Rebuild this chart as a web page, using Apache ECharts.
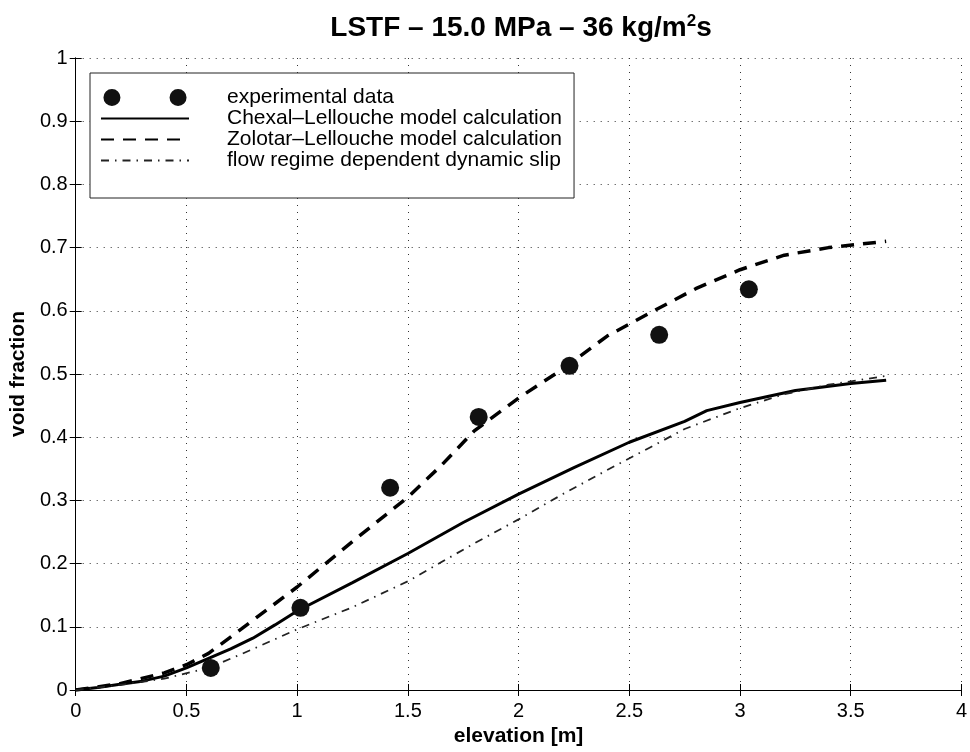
<!DOCTYPE html>
<html><head><meta charset="utf-8">
<script src="https://cdn.jsdelivr.net/npm/echarts@6/dist/echarts.min.js"></script>
<style>html,body{margin:0;padding:0;background:#fff}#c{width:970px;height:752px}</style>
</head><body><div id="c"></div>
<script>
// ---- data ----
const expElev = [0.61, 1.015, 1.42, 1.82, 2.23, 2.635, 3.04];
const expVoid = [0.035, 0.13, 0.32, 0.432, 0.513, 0.562, 0.634];

const chexalElev = [0, 0.1, 0.2, 0.3, 0.4, 0.5, 0.6, 0.7, 0.8, 0.9, 1.0, 1.25, 1.5, 1.75, 2.0, 2.25, 2.5, 2.75, 2.85, 3.0, 3.25, 3.5, 3.66];
const chexalVoid = [0, 0.004, 0.009, 0.014, 0.022, 0.035, 0.05, 0.065, 0.082, 0.103, 0.125, 0.17, 0.216, 0.265, 0.31, 0.352, 0.392, 0.425, 0.442, 0.455, 0.474, 0.485, 0.49];

const zolotarElev = [0, 0.2, 0.4, 0.5, 0.6, 0.75, 1.0, 1.25, 1.5, 1.65, 1.8, 2.0, 2.2, 2.4, 2.6, 2.8, 3.0, 3.2, 3.4, 3.66];
const zolotarVoid = [0, 0.01, 0.027, 0.04, 0.058, 0.097, 0.163, 0.235, 0.305, 0.355, 0.41, 0.462, 0.508, 0.56, 0.598, 0.635, 0.665, 0.688, 0.70, 0.71];

const flowElev = [0, 0.2, 0.4, 0.6, 0.75, 1.0, 1.25, 1.5, 1.65, 1.8, 2.0, 2.2, 2.4, 2.6, 2.75, 3.0, 3.2, 3.4, 3.66];
const flowVoid = [0, 0.008, 0.018, 0.035, 0.057, 0.096, 0.131, 0.172, 0.202, 0.232, 0.27, 0.31, 0.348, 0.385, 0.413, 0.446, 0.468, 0.483, 0.497];

const seriesNames = ['experimental data', 'Chexal\u2013Lellouche model calculation', 'Zolotar\u2013Lellouche model calculation', 'flow regime dependent dynamic slip'];
const xAxisName = 'elevation [m]';
const yAxisName = 'void fraction';

const zip = (a, b) => a.map((v, i) => [v, b[i]]);
const FONT = 'Liberation Sans, Arial, Helvetica, sans-serif';

const chart = echarts.init(document.getElementById('c'), null, {renderer: 'canvas'});
const twoDots = 'path://M0,9a9,9 0 1,0 18,0a9,9 0 1,0 -18,0M70,9a9,9 0 1,0 18,0a9,9 0 1,0 -18,0';

const tickAxisCommon = {
  axisLine: {show: true, lineStyle: {color: '#000', width: 1}},
  axisTick: {show: true, inside: true, length: 6, lineStyle: {color: '#000'}},
  axisLabel: {show: false},
  splitLine: {show: false}
};
const hiddenDot = {opacity: 0};

chart.setOption({
  backgroundColor: '#fff',
  animation: false,
  title: {
    text: 'LSTF \u2013 15.0 MPa \u2013 36 kg/m{sup|2}s',
    left: 516, top: 8, textAlign: 'center',
    textStyle: {
      fontFamily: FONT, fontSize: 28, fontWeight: 'bold', color: '#000',
      rich: {sup: {fontFamily: FONT, fontSize: 17, fontWeight: 'bold', color: '#000', padding: [0, 0, 14, 0]}}
    }
  },
  grid: {left: 71, right: 6, top: 58, bottom: 57, containLabel: false},
  legend: {
    orient: 'vertical', left: 90, top: 73,
    padding: [14, 12, 27, 10],
    itemGap: 0, itemWidth: 88, itemHeight: 17,
    borderColor: '#222', borderWidth: 1, backgroundColor: '#fff',
    selectedMode: false,
    textStyle: {fontFamily: FONT, fontSize: 21, color: '#000', lineHeight: 21, padding: [0, 0, 0, 33]},
    data: [
      {name: seriesNames[0], icon: twoDots, itemStyle: {color: '#111'}},
      {name: seriesNames[1], itemStyle: hiddenDot},
      {name: seriesNames[2], itemStyle: hiddenDot},
      {name: seriesNames[3], itemStyle: hiddenDot}
    ]
  },
  xAxis: [{
    type: 'value', min: 0, max: 4, interval: 0.5, position: 'bottom',
    name: xAxisName, nameLocation: 'middle', nameGap: 36,
    nameTextStyle: {fontFamily: FONT, fontSize: 21, fontWeight: 'bold', color: '#000'},
    axisLine: {show: true, lineStyle: {color: '#000', width: 1}},
    axisTick: {show: true, inside: true, length: 6, lineStyle: {color: '#000'}},
    axisLabel: {fontFamily: FONT, fontSize: 20, color: '#000', margin: 11},
    splitLine: {show: true, lineStyle: {color: '#333', width: 1, type: [1, 6]}}
  }, Object.assign({type: 'value', min: 0, max: 4, interval: 0.5, position: 'top'}, tickAxisCommon)],
  yAxis: [{
    type: 'value', min: 0, max: 1, interval: 0.1, position: 'left',
    name: yAxisName, nameLocation: 'middle', nameGap: 43,
    nameTextStyle: {fontFamily: FONT, fontSize: 21, fontWeight: 'bold', color: '#000'},
    axisLine: {show: true, lineStyle: {color: '#000', width: 1}},
    axisTick: {show: true, inside: true, length: 6, lineStyle: {color: '#000'}},
    axisLabel: {fontFamily: FONT, fontSize: 20, color: '#000', margin: 8},
    splitLine: {show: true, lineStyle: {color: '#333', width: 1, type: [1, 6]}}
  }, Object.assign({type: 'value', min: 0, max: 1, interval: 0.1, position: 'right'}, tickAxisCommon)],
  series: [
    {
      name: seriesNames[0], type: 'scatter', xAxisIndex: 0, yAxisIndex: 0,
      data: zip(expElev, expVoid), symbol: 'circle', symbolSize: 18,
      itemStyle: {color: '#111', opacity: 1}, z: 5
    },
    {
      name: seriesNames[1], type: 'line', xAxisIndex: 0, yAxisIndex: 0,
      data: zip(chexalElev, chexalVoid), showSymbol: false, symbol: 'none', smooth: false,
      lineStyle: {color: '#000', width: 3, type: 'solid'}, itemStyle: {color: '#000'}
    },
    {
      name: seriesNames[2], type: 'line', xAxisIndex: 0, yAxisIndex: 0,
      data: zip(zolotarElev, zolotarVoid), showSymbol: false, symbol: 'none', smooth: false,
      lineStyle: {color: '#000', width: 3.5, type: [13, 9]}, itemStyle: {color: '#000'}
    },
    {
      name: seriesNames[3], type: 'line', xAxisIndex: 0, yAxisIndex: 0,
      data: zip(flowElev, flowVoid), showSymbol: false, symbol: 'none', smooth: false,
      lineStyle: {color: '#222', width: 1.8, type: [8, 6, 1.5, 6]}, itemStyle: {color: '#222'}
    }
  ]
});
</script>
</body></html>
